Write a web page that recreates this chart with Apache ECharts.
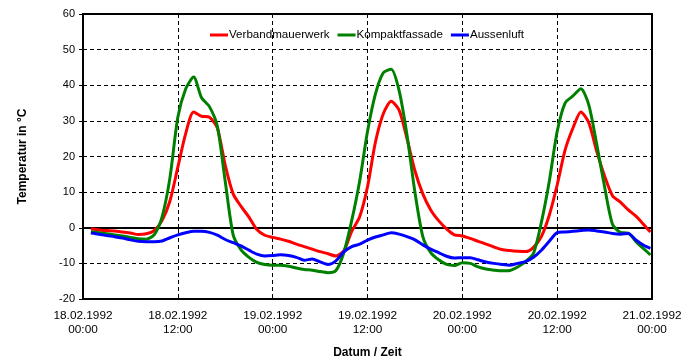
<!DOCTYPE html>
<html>
<head>
<meta charset="utf-8">
<script src="https://cdn.jsdelivr.net/npm/echarts@6/dist/echarts.min.js"></script>
<style>
html,body{margin:0;padding:0;background:#fff;}
#c{width:690px;height:364px;}
</style>
</head>
<body>
<div id="c"></div>
<script>
// hours since 18.02.1992 00:00
const hours = [1,2,3,4,5,6,7,8,9,10,11,12,13,14,15,16,17,18,19,20,21,22,23,24,25,26,27,28,29,30,31,32,33,34,35,36,37,38,39,40,41,42,43,44,45,46,47,48,49,50,51,52,53,54,55,56,57,58,59,60,61,62,63,64,65,66,67,68,69,70,71,71.8];
const verbandmauerwerk = [-0.3,-0.6,-0.8,-0.9,-1.2,-1.5,-1.9,-1.7,-0.8,2.0,7.5,17.0,26.5,32.5,31.3,31.0,28.0,17.5,9.5,6.0,3.0,-0.5,-2.1,-2.7,-3.2,-3.8,-4.6,-5.3,-6.0,-6.7,-7.3,-7.9,-6.5,-1.0,3.0,11.5,24.0,32.0,35.5,33.0,25.0,16.0,9.5,5.0,2.0,-0.3,-2.0,-2.3,-3.0,-3.8,-4.6,-5.4,-6.1,-6.4,-6.6,-6.7,-5.5,-2.5,3.5,12.0,21.8,28.0,32.5,29.5,21.5,14.5,9.0,7.2,5.0,3.2,0.8,-1.2];
const kompaktfassade = [-1.1,-1.4,-1.7,-2.0,-2.3,-2.7,-3.1,-3.2,-2.0,3.0,14.0,31.0,39.0,42.3,36.5,34.0,28.5,13.0,-2.0,-6.2,-8.3,-9.7,-10.3,-10.5,-10.5,-10.8,-11.3,-11.7,-11.9,-12.3,-12.6,-12.0,-7.0,2.0,13.0,27.0,37.5,43.5,44.5,38.5,26.0,10.0,-2.5,-7.0,-9.0,-10.3,-10.6,-9.8,-10.0,-11.0,-11.6,-11.9,-12.1,-12.0,-11.0,-9.5,-7.2,1.5,13.0,27.0,35.0,37.0,39.0,34.5,23.5,11.5,1.0,-1.3,-1.5,-4.0,-6.0,-7.6];
const aussenluft = [-1.5,-1.8,-2.2,-2.5,-2.9,-3.4,-3.8,-3.9,-3.9,-3.7,-2.8,-2.0,-1.4,-1.0,-1.0,-1.3,-2.1,-3.3,-4.2,-5.1,-6.3,-7.4,-7.9,-7.8,-7.6,-7.8,-8.3,-9.1,-8.8,-9.6,-10.3,-9.3,-6.8,-5.3,-4.6,-3.5,-2.6,-2.0,-1.4,-1.8,-2.5,-3.4,-4.8,-6.0,-7.0,-8.0,-8.5,-8.4,-8.4,-9.0,-9.6,-10.0,-10.3,-10.5,-10.0,-9.5,-8.3,-6.3,-3.8,-1.4,-1.2,-1.0,-0.8,-0.6,-0.9,-1.2,-1.6,-1.8,-1.6,-3.5,-5.0,-5.8];
const xTickLabels = ['18.02.1992\n00:00','18.02.1992\n12:00','19.02.1992\n00:00','19.02.1992\n12:00','20.02.1992\n00:00','20.02.1992\n12:00','21.02.1992\n00:00'];
const seriesNames = ['Verbandmauerwerk','Kompaktfassade','Aussenluft'];

const pair = arr => hours.map((h,i)=>[h,arr[i]]);
const font = 'Liberation Sans, Arial, sans-serif';
const chart = echarts.init(document.getElementById('c'), null, {renderer:'canvas'});
const mk = (name, data, color) => ({
  name, type:'line', data:pair(data), showSymbol:false, smooth:0.25,
  lineStyle:{color, width:3}, itemStyle:{color}
});
chart.setOption({
  animation:false,
  backgroundColor:'#fff',
  grid:{left:83,right:38,top:14,bottom:65,show:true,borderColor:'#000',borderWidth:2,backgroundColor:'transparent'},
  legend:{
    left:205, top:24, itemWidth:18, itemHeight:3, itemGap:8, icon:'rect',
    textStyle:{fontFamily:font,fontSize:11.6,color:'#000',padding:[0,0,0,-4]},
    data:seriesNames
  },
  xAxis:{
    type:'value', min:0, max:72, interval:12,
    name:'Datum / Zeit', nameLocation:'middle', nameGap:48,
    nameTextStyle:{fontFamily:font,fontSize:12,fontWeight:'bold',color:'#000'},
    axisLine:{lineStyle:{color:'#000',width:2}},
    axisTick:{show:true,length:4,lineStyle:{color:'#000'}},
    axisLabel:{fontFamily:font,fontSize:11.8,color:'#000',margin:10,lineHeight:14,
      formatter:(v)=>xTickLabels[Math.round(v/12)]},
    splitLine:{show:true,lineStyle:{color:'#000',type:[4,3],width:1}}
  },
  yAxis:{
    type:'value', min:-20, max:60, interval:10,
    name:'Temperatur in °C', nameLocation:'middle', nameGap:54,
    nameTextStyle:{fontFamily:font,fontSize:12,fontWeight:'bold',color:'#000'},
    axisLine:{show:true,lineStyle:{color:'#000',width:2}},
    axisTick:{show:true,length:4,lineStyle:{color:'#000'}},
    axisLabel:{fontFamily:font,fontSize:11,color:'#000',margin:8},
    splitLine:{show:true,lineStyle:{color:'#000',type:[4,3],width:1}}
  },
  series:[
    mk(seriesNames[0], verbandmauerwerk, '#ff0000'),
    mk(seriesNames[1], kompaktfassade, '#008000'),
    mk(seriesNames[2], aussenluft, '#0000ff')
  ]
});
</script>
</body>
</html>
